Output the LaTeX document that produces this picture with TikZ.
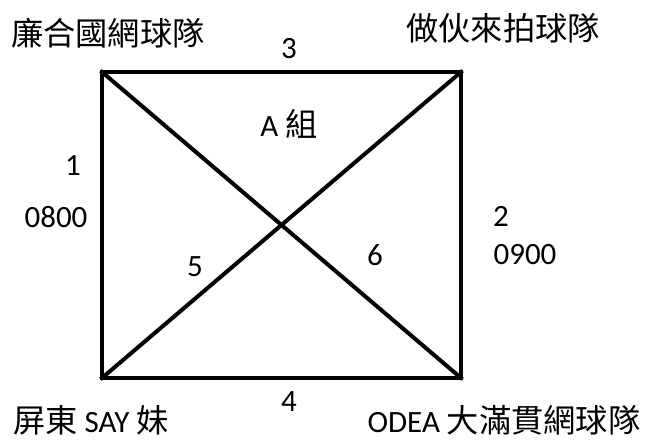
\documentclass[tikz,border=0pt]{standalone}
\usepackage{fontspec}
\setmainfont{Carlito}
\newfontfamily\cjk[Scale=1.04]{Noto Sans CJK TC}
\begin{document}
\begin{tikzpicture}[x=1pt,y=1pt,
  lbl/.style={inner sep=0pt, font=\fontsize{31}{37}\selectfont},
  cjlbl/.style={inner sep=0pt, font=\fontsize{31}{37}\selectfont\cjk},
  edge/.style={line width=4pt, line cap=rect, line join=miter}]
\useasboundingbox (0,0) rectangle (646,441);
\coordinate (tl) at (102,369);
\coordinate (tr) at (461,369);
\coordinate (br) at (461,63);
\coordinate (bl) at (102,63);
\draw[edge] (tl) -- (tr) -- (br) -- (bl) -- cycle;
\draw[edge] (tl) -- (br);
\draw[edge] (tr) -- (bl);
\node[cjlbl] (t1) at (108,408) {廉合國網球隊};
\node[cjlbl] (t2) at (503,413) {做伙來拍球隊};
\node[lbl] (n3) at (289,392) {3};
\node[lbl] (ga) at (289,317) {A {\cjk 組}};
\node[lbl] (n1) at (73,275) {1};
\node[lbl] (t01) at (56,224) {0800};
\node[lbl] (n2) at (501,225) {2};
\node[lbl] (t02) at (525,186) {0900};
\node[lbl] (n5) at (195,174) {5};
\node[lbl] (n6) at (375,186) {6};
\node[lbl] (n4) at (289,39) {4};
\node[lbl] (t3) at (91,21) {{\cjk 屏東} SAY {\cjk 妹}};
\node[lbl] (t4) at (504,21) {ODEA {\cjk 大滿貫網球隊}};
\end{tikzpicture}
\end{document}
